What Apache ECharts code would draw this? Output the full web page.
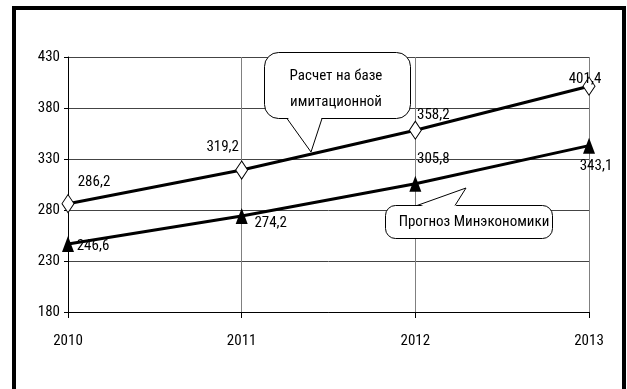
<!DOCTYPE html>
<html>
<head>
<meta charset="utf-8">
<script src="https://cdn.jsdelivr.net/npm/echarts@6/dist/echarts.min.js"></script>
<style>html,body{margin:0;padding:0;background:#fff}#c{width:627px;height:389px}</style>
</head>
<body>
<div id="c"></div>
<script>
const years = ['2010', '2011', '2012', '2013'];
const simValues = [286.2, 319.2, 358.2, 401.4];
const forecastValues = [246.6, 274.2, 305.8, 343.1];
const yMin = 180, yMax = 430, yStep = 50;
const calloutSim = ['Расчет на базе', 'имитационной'];
const calloutForecast = 'Прогноз Минэкономики';

const FONT = "'Roboto Condensed', 'Liberation Sans', sans-serif";
const simLabelOffsets = [[26, -21], [-19, -23], [18, -15], [-4, -7]];
const fcLabelOffsets = [[25, 2], [29, 7], [18, -24], [7, 21]];
const fmt = v => String(v).replace('.', ',');

function items(values, offsets) {
  return values.map((v, i) => ({
    value: v,
    label: { offset: offsets[i] }
  }));
}
const labelBase = {
  show: true, position: 'inside', align: 'center', verticalAlign: 'middle',
  color: '#000', fontFamily: FONT, fontSize: 15,
  formatter: p => fmt(p.value)
};

function callout(box, r, tail) {
  const inset = tail[0][1] > box[1] + box[3] / 2 ? -2 : 2;
  return [
    {
      type: 'rect', z: 100, silent: true,
      shape: { x: box[0], y: box[1], width: box[2], height: box[3], r: r },
      style: { fill: '#fff', stroke: '#000', lineWidth: 1 }
    },
    {
      type: 'polygon', z: 101, silent: true,
      shape: { points: [[tail[0][0], tail[0][1] + inset], tail[1], [tail[2][0], tail[2][1] + inset]] },
      style: { fill: '#fff', stroke: 'none' }
    },
    {
      type: 'polyline', z: 102, silent: true,
      shape: { points: tail },
      style: { fill: 'none', stroke: '#000', lineWidth: 1 }
    }
  ];
}

const graphics = [
  {
    type: 'rect', z: 100, silent: true,
    shape: { x: 14, y: 8, width: 610, height: 400 },
    style: { fill: 'none', stroke: '#000', lineWidth: 4 }
  }
].concat(
  callout([264.5, 52.5, 146, 66], 14, [[287, 118.5], [311, 152], [322, 118.5]]),
  [
    { type: 'text', z: 103, silent: true, x: 336, y: 76,
      style: { text: calloutSim[0], font: '15px ' + FONT, fill: '#000', align: 'center', verticalAlign: 'middle' } },
    { type: 'text', z: 103, silent: true, x: 336, y: 102,
      style: { text: calloutSim[1], font: '15px ' + FONT, fill: '#000', align: 'center', verticalAlign: 'middle' } }
  ],
  callout([385.5, 205.5, 167, 33], 10, [[417, 205.5], [466, 188], [455, 205.5]]),
  [
    { type: 'text', z: 103, silent: true, x: 474, y: 222,
      style: { text: calloutForecast, font: '15px ' + FONT, fill: '#000', align: 'center', verticalAlign: 'middle' } }
  ]
);

const chart = echarts.init(document.getElementById('c'));
chart.setOption({
  animation: false,
  backgroundColor: '#fff',
  grid: { left: 68, right: 38, top: 57, bottom: 77 },
  xAxis: {
    type: 'category', data: years, boundaryGap: false,
    axisLine: { lineStyle: { color: '#000', width: 1 } },
    axisTick: { show: true, length: 6, lineStyle: { color: '#000' } },
    axisLabel: { color: '#000', fontFamily: FONT, fontSize: 15, margin: 22 },
    splitLine: { show: true, lineStyle: { color: '#808080', width: 1 } }
  },
  yAxis: {
    type: 'value', min: yMin, max: yMax, interval: yStep,
    axisLine: { show: true, lineStyle: { color: '#000', width: 1 } },
    axisTick: { show: true, length: 4, lineStyle: { color: '#000' } },
    axisLabel: { color: '#000', fontFamily: FONT, fontSize: 15, margin: 8 },
    splitLine: { show: true, lineStyle: { color: '#444', width: 1 } }
  },
  series: [
    {
      type: 'line', data: items(simValues, simLabelOffsets),
      symbol: 'diamond', symbolSize: [12, 18], showAllSymbol: true,
      lineStyle: { color: '#000', width: 3 },
      itemStyle: { color: '#fff', borderColor: '#000', borderWidth: 1 },
      label: labelBase, z: 3
    },
    {
      type: 'line', data: items(forecastValues, fcLabelOffsets),
      symbol: 'triangle', symbolSize: [12, 16], showAllSymbol: true,
      lineStyle: { color: '#000', width: 3 },
      itemStyle: { color: '#000', borderColor: '#000', borderWidth: 0 },
      label: labelBase, z: 3
    }
  ],
  graphic: graphics
});
</script>
</body>
</html>
